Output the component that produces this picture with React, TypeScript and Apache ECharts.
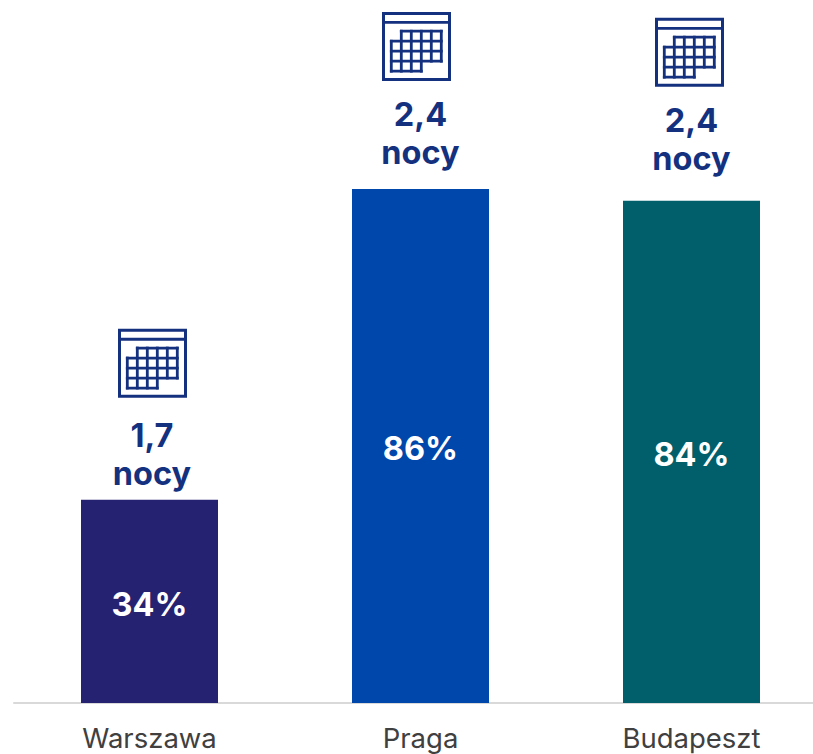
import React, { useEffect, useRef } from "react";
import * as echarts from "echarts";

const categories = ["Warszawa", "Praga", "Budapeszt"];
const shares = [34, 86, 84];
const nights = ["1,7", "2,4", "2,4"];
const barColors = ["#262272", "#0047AB", "#005F6B"];
const INK = "#14317F";
const FONT = "Inter, 'Noto Sans', sans-serif";

// layout of each annotation relative to the top-centre of its bar (px)
const textLift = [26, 36, 42];
const textShift = [2.5, 0, 0];
const iconLift = [171, 177, 183];
const iconShift = [-31.5, -38.5, -36.5];

function renderAnnotation(params: any, api: any) {
  const i = api.value(0);
  const p = api.coord([i, api.value(1)]);
  const cx = p[0];
  const left = cx + iconShift[i];
  const top = p[1] - iconLift[i];
  const textX = cx + textShift[i];
  const textY = p[1] - textLift[i];
  const line = (x1: number, y1: number, x2: number, y2: number) => ({
    type: "line",
    shape: { x1: left + x1, y1: top + y1, x2: left + x2, y2: top + y2 },
    style: { stroke: INK, lineWidth: 2.8, fill: "none", lineCap: "square" },
  });
  return {
    type: "group",
    children: [
      {
        type: "rect",
        shape: { x: left + 1.5, y: top + 1.5, width: 66, height: 66 },
        style: { stroke: INK, lineWidth: 3, fill: "none" },
      },
      line(1.5, 10.5, 67.5, 10.5),
      line(19.3, 19.3, 59.3, 19.3),
      line(9.3, 29.3, 59.3, 29.3),
      line(9.3, 39.3, 59.3, 39.3),
      line(9.3, 49.3, 59.3, 49.3),
      line(9.3, 59.3, 39.3, 59.3),
      line(9.3, 29.3, 9.3, 59.3),
      line(19.3, 19.3, 19.3, 59.3),
      line(29.3, 19.3, 29.3, 59.3),
      line(39.3, 19.3, 39.3, 59.3),
      line(49.3, 19.3, 49.3, 49.3),
      line(59.3, 19.3, 59.3, 49.3),
      {
        type: "text",
        x: textX,
        y: textY - 38,
        style: { text: nights[i], fill: INK, font: `700 32.5px ${FONT}`, align: "center", verticalAlign: "middle" },
      },
      {
        type: "text",
        x: textX,
        y: textY,
        style: { text: "nocy", fill: INK, font: `700 32.5px ${FONT}`, align: "center", verticalAlign: "middle" },
      },
    ],
  };
}

export default function App() {
  const ref = useRef<HTMLDivElement>(null);
  useEffect(() => {
    const chart = echarts.init(ref.current!, undefined, { renderer: "svg" });
    chart.setOption({
      animation: false,
      grid: { left: 14, top: 0, width: 813, height: 703 },
      xAxis: {
        type: "category",
        data: categories,
        axisTick: { show: false },
        axisLine: { lineStyle: { color: "#D9D9D9", width: 2 } },
        axisLabel: { color: "#404040", fontFamily: FONT, fontSize: 27.5, lineHeight: 28, margin: 21 },
      },
      yAxis: { type: "value", min: 0, max: 117.6, show: false },
      series: [
        {
          type: "bar",
          barWidth: 137,
          data: shares.map((v, i) => ({ value: v, itemStyle: { color: barColors[i] } })),
          label: {
            show: true,
            position: "inside",
            offset: [0, 3],
            color: "#FFFFFF",
            fontFamily: FONT,
            fontWeight: 700,
            fontSize: 32.5,
            formatter: "{c}%",
          },
        },
        {
          type: "custom",
          renderItem: renderAnnotation,
          data: shares.map((v, i) => [i, v]),
          encode: { x: 0, y: 1 },
          silent: true,
          z: 5,
        },
      ],
    });
    return () => chart.dispose();
  }, []);
  return (
    <div style={{ position: "absolute", left: 0, top: 0, width: 813, height: 754, overflow: "hidden" }}>
      <div ref={ref} style={{ width: 827, height: 754 }} />
    </div>
  );
}
